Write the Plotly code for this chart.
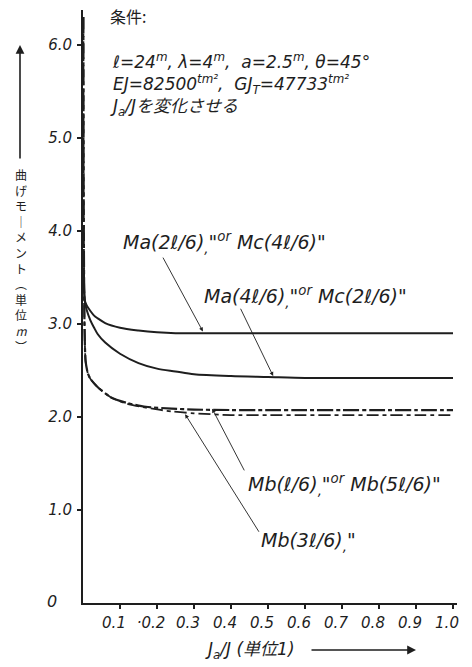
import plotly.graph_objects as go

# ---------------- data ----------------
x_ma = [0.002, 0.005, 0.01, 0.02, 0.03, 0.04, 0.06, 0.1, 0.15, 0.2, 0.25, 0.3, 0.4, 0.5, 0.6, 0.7, 0.8, 0.9, 1.0]
ma_2l6 = [3.60, 3.25, 3.20, 3.14, 3.09, 3.06, 3.01, 2.96, 2.93, 2.91, 2.90, 2.90, 2.90, 2.90, 2.90, 2.90, 2.90, 2.90, 2.90]
ma_4l6 = [3.60, 3.25, 3.15, 3.04, 2.96, 2.89, 2.80, 2.68, 2.58, 2.52, 2.49, 2.46, 2.44, 2.43, 2.42, 2.42, 2.42, 2.42, 2.42]

x_mb = [0.001, 0.002, 0.004, 0.007, 0.013, 0.02, 0.04, 0.076, 0.12, 0.17, 0.24, 0.3, 0.4, 0.5, 0.6, 0.7, 0.8, 0.9, 1.0]
mb_l6 = [6.30, 4.20, 3.00, 2.60, 2.47, 2.41, 2.32, 2.21, 2.15, 2.11, 2.09, 2.08, 2.075, 2.075, 2.075, 2.075, 2.075, 2.075, 2.075]
mb_3l6 = [6.30, 4.20, 3.00, 2.60, 2.47, 2.41, 2.32, 2.21, 2.14, 2.10, 2.06, 2.04, 2.02, 2.02, 2.02, 2.02, 2.02, 2.02, 2.02]

x_ticks = [0.1, 0.2, 0.3, 0.4, 0.5, 0.6, 0.7, 0.8, 0.9, 1.0]
x_tick_text = ["0.1", "·0.2", "0.3", "0.4", "0.5", "0.6", "0.7", "0.8", "0.9", "1.0"]
y_ticks = [1, 2, 3, 4, 5, 6]
y_tick_text = ["1.0", "2.0", "3.0", "4.0", "5.0", "6.0"]

# ---------------- layout geometry ----------------
W, H = 472, 667
L, R, T, B = 83, 15, 10, 64
PW, PH = W - L - R, H - T - B
PX_PER_X, PX_PER_Y = 370.0, 93.0


def P(px, py):
    return (px - L) / PW, (H - B - py) / PH


INK = "#1e1e1e"
FONT = "DejaVu Sans, Noto Sans CJK JP"
CJK = "Noto Sans CJK JP, DejaVu Sans"

fig = go.Figure()
fig.add_trace(go.Scatter(x=x_ma, y=ma_2l6, mode="lines", line=dict(color=INK, width=2, shape="spline", smoothing=0.8)))
fig.add_trace(go.Scatter(x=x_ma, y=ma_4l6, mode="lines", line=dict(color=INK, width=2, shape="spline", smoothing=0.8)))
fig.add_trace(go.Scatter(x=x_mb, y=mb_l6, mode="lines",
                         line=dict(color=INK, width=2.2, dash="16px,3px,4px,3px", shape="spline", smoothing=0.6)))
fig.add_trace(go.Scatter(x=x_mb, y=mb_3l6, mode="lines",
                         line=dict(color=INK, width=1.8, dash="12px,4px,4px,4px", shape="spline", smoothing=0.6)))

ann = []

def text_px(px, py, s, size=16, anchor="left", fam=FONT, italic=True, yanchor="middle", align="left"):
    xp, yp = P(px, py)
    ann.append(dict(x=xp, y=yp, xref="paper", yref="paper", text=s, showarrow=False,
                    xanchor=anchor, yanchor=yanchor, align=align,
                    font=dict(family=fam, size=size, color=INK, style="italic" if italic else "normal")))

# conditions block
text_px(108, 16, "条件:", size=16, fam=CJK, italic=False)
text_px(108, 48,
        "ℓ=24<sup>m</sup>, λ=4<sup>m</sup>,  a=2.5<sup>m</sup>, θ=45°<br>"
        "EJ=82500<sup>tm²</sup>,  GJ<sub>T</sub>=47733<sup>tm²</sup><br>"
        "J<sub>a</sub>/Jを変化させる",
        size=17, yanchor="top")

# curve labels
text_px(121, 242, 'Ma(2ℓ/6)<sub>,</sub>"<sup>or</sup> Mc(4ℓ/6)"', size=19)
text_px(202, 297, 'Ma(4ℓ/6)<sub>,</sub>"<sup>or</sup> Mc(2ℓ/6)"', size=19)
text_px(246, 484, 'Mb(ℓ/6)<sub>,</sub>"<sup>or</sup> Mb(5ℓ/6)"', size=19)
text_px(259, 541, 'Mb(3ℓ/6)<sub>,</sub>"', size=19)

# leader arrows (data coords)
def leader(hx, hy, tx, ty):
    ann.append(dict(x=hx, y=hy, ax=tx, ay=ty, xref="x", yref="y", axref="x", ayref="y",
                    text="", showarrow=True, arrowhead=2, arrowsize=0.9, arrowwidth=0.9,
                    arrowcolor=INK))

leader(0.324, 2.92, 0.214, 3.73)
leader(0.514, 2.44, 0.424, 3.18)
leader(0.349, 2.09, 0.438, 1.41)
leader(0.276, 2.03, 0.478, 0.75)

# origin label
text_px(52, 601, "0", size=16, anchor="center")

# x-axis title with arrow
text_px(203, 650, "J<sub>a</sub>/J (単位1)", size=17)
hx, hy = P(416, 650)
ann.append(dict(x=hx, y=hy, xref="paper", yref="paper", ax=-106, ay=0, text="",
                showarrow=True, arrowhead=2, arrowsize=1.1, arrowwidth=1.6, arrowcolor=INK))

# y-axis title: vertical text (one text block) with arrow above
ytitle = "<br>".join(["曲", "げ", "モ", "｜", "メ", "ン", "ト", "︵", "単", "位", "<i>m</i>", "︶"])
text_px(21, 164, ytitle, size=12, anchor="center", fam=CJK, italic=False, yanchor="top", align="center")
hx, hy = P(20, 45)
ann.append(dict(x=hx, y=hy, xref="paper", yref="paper", ax=0, ay=115, text="",
                showarrow=True, arrowhead=2, arrowsize=1.1, arrowwidth=1.6, arrowcolor=INK))

fig.update_layout(
    width=W, height=H,
    margin=dict(l=L, r=R, t=T, b=B),
    paper_bgcolor="white", plot_bgcolor="white",
    showlegend=False,
    annotations=ann,
    xaxis=dict(range=[0, PW / PX_PER_X], tickvals=x_ticks, ticktext=x_tick_text,
               showgrid=False, zeroline=False, showline=True, linecolor=INK, linewidth=2,
               ticks="outside", ticklen=4, tickcolor=INK, tickwidth=1.5,
               ticklabelshift=-6, ticklabelstandoff=1,
               tickfont=dict(family=FONT, size=15, color=INK, style="italic")),
    yaxis=dict(range=[0, PH / PX_PER_Y], tickvals=y_ticks, ticktext=y_tick_text,
               showgrid=False, zeroline=False, showline=True, linecolor=INK, linewidth=2,
               ticks="outside", ticklen=4, tickcolor=INK, tickwidth=1.5,
               ticklabelstandoff=2,
               tickfont=dict(family=FONT, size=15, color=INK, style="italic")),
)

fig.write_html("out.html", config={"displayModeBar": False},
               post_script="document.body.style.margin='0px';")
